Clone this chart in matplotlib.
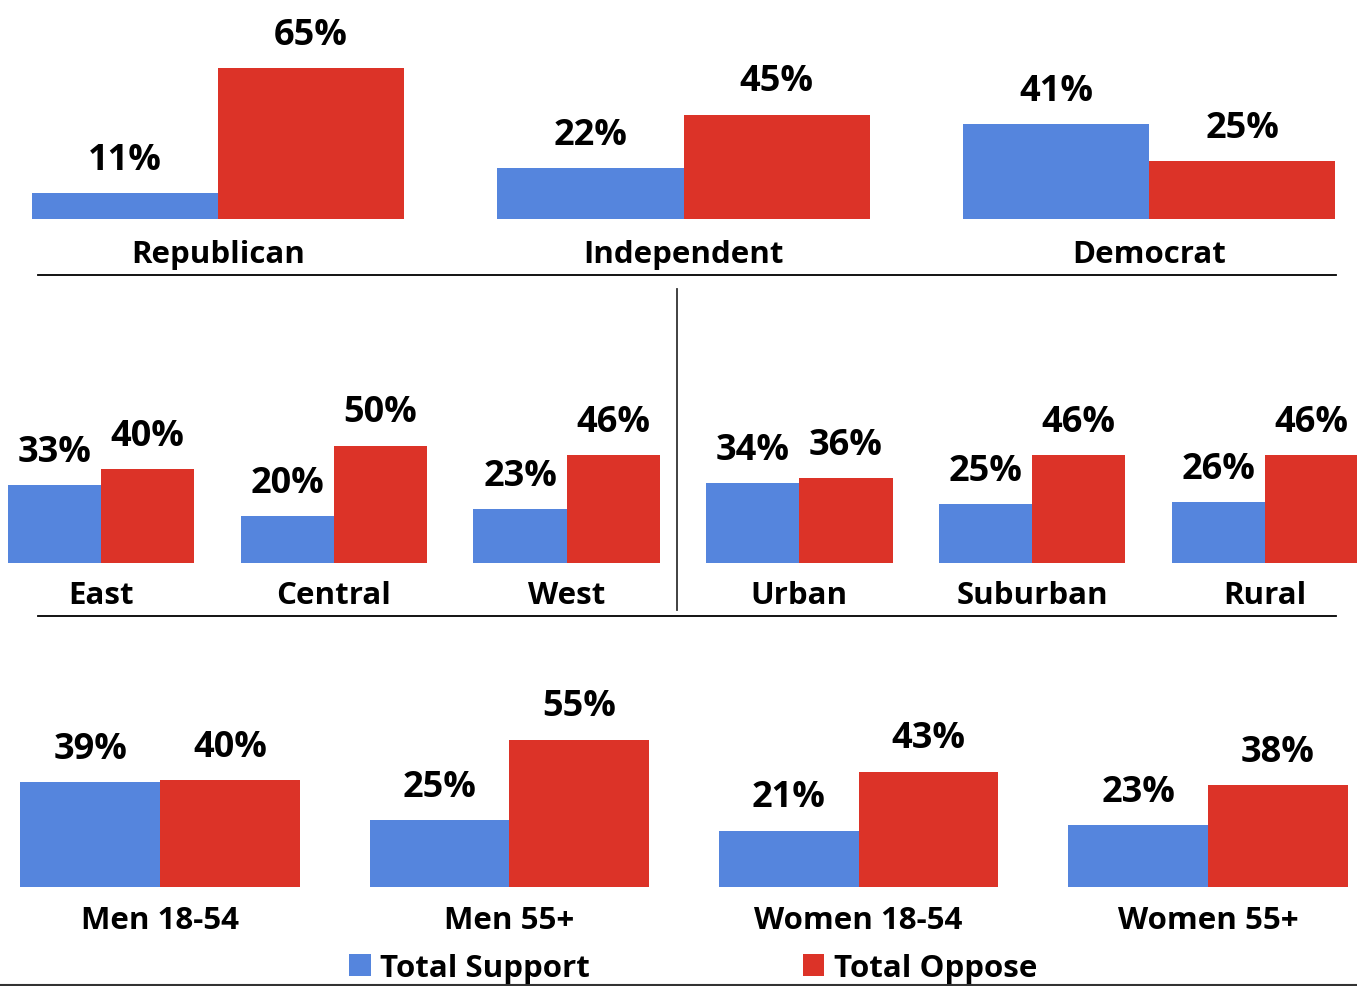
import matplotlib
matplotlib.use("Agg")
import matplotlib.pyplot as plt
from matplotlib.lines import Line2D
from matplotlib.patches import Patch

plt.rcParams['font.family'] = ['Open Sans', 'DejaVu Sans']
plt.rcParams['font.weight'] = 'bold'

# ---- data ----
party_cats = ["Republican", "Independent", "Democrat"]
party_support = [11, 22, 41]
party_oppose = [65, 45, 25]

region_cats = ["East", "Central", "West", "Urban", "Suburban", "Rural"]
region_support = [33, 20, 23, 34, 25, 26]
region_oppose = [40, 50, 46, 36, 46, 46]

demo_cats = ["Men 18-54", "Men 55+", "Women 18-54", "Women 55+"]
demo_support = [39, 25, 21, 23]
demo_oppose = [40, 55, 43, 38]

series_names = ["Total Support", "Total Oppose"]
BLUE = "#5585DD"
RED = "#DC3328"

W, H = 1357, 987
fig = plt.figure(figsize=(W / 100, H / 100), dpi=100)

VAL_FS = 26
CAT_FS = 22.5


def add_row(cats, sup, opp, center0, spacing, base_px, top_px, scale, pad):
    bottom = 1 - base_px / H
    height = (base_px - top_px) / H
    ax = fig.add_axes([0, bottom, 1, height])
    x0 = -center0 / spacing
    x1 = (W - center0) / spacing
    ax.set_xlim(x0, x1)
    ax.set_ylim(0, (base_px - top_px) / scale)
    xs = list(range(len(cats)))
    bw = 0.4
    b1 = ax.bar([x - bw / 2 for x in xs], sup, width=bw, color=BLUE)
    b2 = ax.bar([x + bw / 2 for x in xs], opp, width=bw, color=RED)
    for bars, vals in ((b1, sup), (b2, opp)):
        for r, v in zip(bars, vals):
            ax.annotate(f"{v}%", (r.get_x() + r.get_width() / 2, v),
                        xytext=(0, 11), textcoords="offset points",
                        ha="center", va="bottom", fontsize=VAL_FS,
                        fontweight="bold", annotation_clip=False)
    ax.set_xticks(xs)
    ax.set_xticklabels(cats, fontsize=CAT_FS, fontweight="bold")
    ax.tick_params(axis="x", length=0, pad=pad)
    ax.set_yticks([])
    for s in ax.spines.values():
        s.set_visible(False)
    ax.patch.set_alpha(0)
    return ax


add_row(party_cats, party_support, party_oppose, 218, 465.5, 220, 0, 2.32, 14.5)
add_row(region_cats, region_support, region_oppose, 101, 232.8, 564, 300, 2.35, 12.5)
add_row(demo_cats, demo_support, demo_oppose, 160, 349.3, 888, 640, 2.68, 13)


def hline(y, x0, x1, color="black", lw=1.3):
    fig.add_artist(Line2D([x0 / W, x1 / W], [1 - y / H, 1 - y / H],
                          color=color, lw=lw, transform=fig.transFigure))


hline(276, 38, 1336)
hline(617, 38, 1336)
hline(986, 0, W, color="#333333", lw=1.5)
fig.add_artist(Line2D([677 / W, 677 / W], [1 - 290 / H, 1 - 611 / H],
                      color="#333333", lw=1.3, transform=fig.transFigure))

handles = [Patch(facecolor=BLUE, label=series_names[0]),
           Patch(facecolor=RED, label=series_names[1])]
fig.legend(handles=handles, loc="center", bbox_to_anchor=(693 / W, 1 - 969 / H),
           ncol=2, frameon=False, handlelength=0.7,
           handleheight=0.7, handletextpad=0.3, columnspacing=6.8,
           borderpad=0, borderaxespad=0,
           prop={"weight": "bold", "size": CAT_FS})

fig.savefig("out.png", dpi=100)
